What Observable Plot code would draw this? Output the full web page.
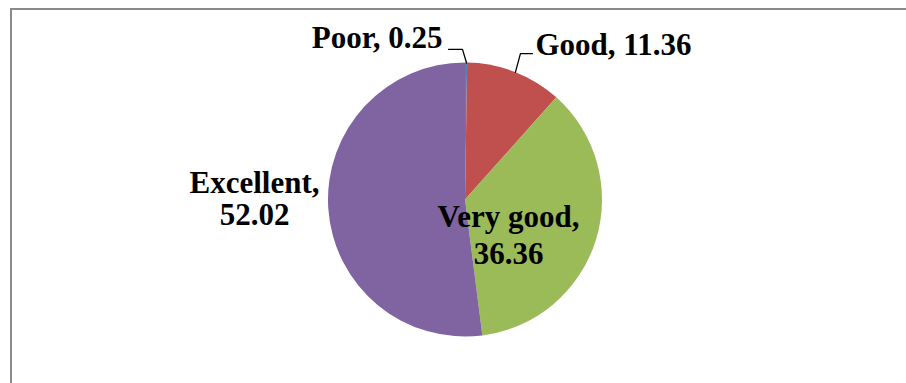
<!DOCTYPE html>
<html><head><meta charset="utf-8">
<script src="https://cdn.jsdelivr.net/npm/d3@7"></script>
<script src="https://cdn.jsdelivr.net/npm/@observablehq/plot@0.6"></script>
<style>
html,body{margin:0;padding:0;background:#fff;width:906px;height:383px;overflow:hidden;}
#frame{position:absolute;left:10px;top:8px;width:1000px;height:500px;border:2px solid #8a8a8a;}
#chart{position:absolute;left:0;top:0;}
</style></head><body><div id="frame"></div><div id="chart"></div>
<script>
// data
const categories = ["Poor", "Good", "Very good", "Excellent"];
const values = [0.25, 11.36, 36.36, 52.02];
const colors = ["#4F81BD", "#C0504D", "#9BBB59", "#8064A2"];

// layout (pie units: radius = 1, origin at pie center, y up)
const labelX = [-0.168, 0.511, 0.314, -1.540];
const labelY = [1.106, 1.055, -0.464, -0.186];
const leaderElbows = {Poor: [[-0.124, 1.099], [-0.022, 1.099]], Good: [[0.489, 1.069], [0.401, 1.069]]};

const data = categories.map((c, i) => ({category: c, value: values[i], color: colors[i]}));
const arcs = d3.pie().sort(null).value(d => d.value)(data);
arcs.forEach(a => { a.mid = (a.startAngle + a.endAngle) / 2; });

const labels = data.map((d, i) => ({
  text: i >= 2 ? `${d.category},\n${d.value.toFixed(2)}` : `${d.category}, ${d.value.toFixed(2)}`,
  x: labelX[i], y: labelY[i], idx: i
}));

const leaders = [];
arcs.forEach(a => {
  const el = leaderElbows[a.data.category];
  if (!el) return;
  const pts = [...el, [Math.sin(a.mid), Math.cos(a.mid)]];
  pts.forEach(p => leaders.push({k: a.data.category, x: p[0], y: p[1]}));
});

function pieMark(index, scales) {
  const cx = scales.x(0), cy = scales.y(0), r = scales.x(1) - scales.x(0);
  const g = d3.create("svg:g").attr("transform", `translate(${cx},${cy})`);
  g.selectAll("path").data(arcs).join("path")
    .attr("d", d3.arc().innerRadius(0).outerRadius(r))
    .attr("fill", d => d.data.color);
  return g.node();
}

const font = {fontFamily: "'Liberation Serif', 'Times New Roman', serif", fontSize: 31, fontWeight: "bold", fill: "black", lineAnchor: "bottom"};

const R = 137;
const chart = Plot.plot({
  width: 906, height: 383,
  margin: 0,
  style: {background: "transparent", overflow: "visible"},
  x: {domain: [-465 / R, (906 - 465) / R], range: [0, 906], axis: null},
  y: {domain: [-(383 - 199.5) / R, 199.5 / R], range: [383, 0], axis: null},
  marks: [
    pieMark,
    Plot.line(leaders, {x: "x", y: "y", z: "k", stroke: "black", strokeWidth: 1.3}),
    Plot.text(labels.filter(d => d.idx === 0), {x: "x", y: "y", text: "text", textAnchor: "end", ...font}),
    Plot.text(labels.filter(d => d.idx === 1), {x: "x", y: "y", text: "text", textAnchor: "start", ...font}),
    Plot.text(labels.filter(d => d.idx === 3), {x: "x", y: "y", text: "text", textAnchor: "middle", lineHeight: 1.06, ...font}),
    Plot.text(labels.filter(d => d.idx === 2), {x: "x", y: "y", text: "text", textAnchor: "middle", lineHeight: 1.18, ...font})
  ]
});
document.getElementById("chart").appendChild(chart);
</script></body></html>
